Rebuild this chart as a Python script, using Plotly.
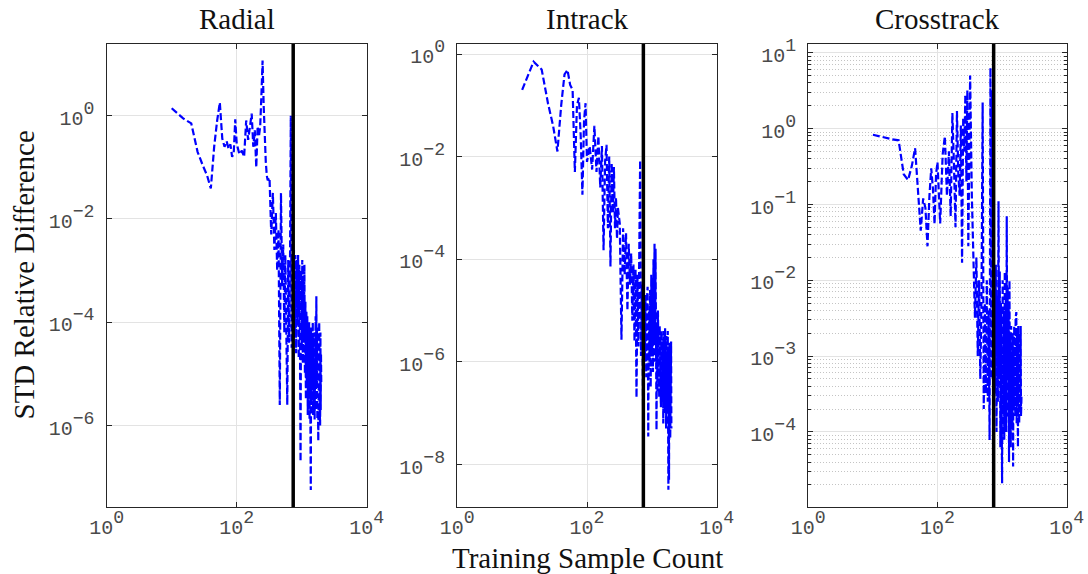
import plotly.graph_objects as go

# training sample counts (shared by the three panels)
sample_count = [10, 15, 20, 25, 30, 35, 40, 45, 50, 55, 60, 65, 70, 75, 80, 85, 90, 95, 100,
                110, 120, 130, 140, 150, 160, 170, 180, 190, 200, 210, 220, 230, 240, 250, 260, 270, 280, 290, 300,
                320, 340, 360, 380, 400, 420, 440, 460, 480, 500, 520, 540, 560, 580, 600, 620, 640, 660, 680, 700,
                720, 740, 760, 780, 800, 820, 840, 860, 880, 900, 920, 940, 960, 980, 1000,
                1020, 1040, 1060, 1080, 1100, 1120, 1140, 1160, 1180, 1200, 1220, 1240, 1260, 1280, 1300,
                1320, 1340, 1360, 1380, 1400, 1420, 1440, 1460, 1480, 1500, 1520, 1540, 1560, 1580, 1600,
                1620, 1640, 1660, 1680, 1700, 1720, 1740, 1760, 1780, 1800, 1820, 1840, 1860, 1880, 1900,
                1920, 1940, 1960, 1980, 2000]

radial_std = [1.4, 0.89, 0.71, 0.2, 0.11, 0.07, 0.039, 0.25, 0.8, 1.8, 0.36, 0.25, 0.32, 0.23, 0.28, 0.16, 0.19, 0.85, 0.29,
              0.18, 0.21, 0.16, 0.81, 0.34, 0.62, 1.1, 0.25, 0.52, 0.1, 0.62, 0.4, 0.63, 2.5, 11.7, 1.6, 0.25, 0.13, 0.07, 0.056,
              6.3e-2, 5e-3, 3.2e-2, 2.5e-3, 1.3e-2, 1e-3, 6.3e-3, 2.5e-6, 3.2e-2, 5e-4, 3.2e-3, 6.3e-5, 2e-3, 2.5e-5, 2.5e-6,
              1.6e-3, 4e-5, 1e-3, 1.0, 3.2e-5,
              2e-3, 1.3e-4, 2.5e-3, 5e-5, 2e-3, 2.5e-5, 1.6e-3, 1e-4, 2e-3, 2e-5, 1.3e-3, 6.3e-5, 2e-7, 1e-3, 3.2e-5,
              1.6e-3, 1.6e-5, 6.3e-4, 4e-5, 1.3e-3, 1e-5, 2.5e-4, 3.2e-6, 1.6e-4, 6.3e-6,
              1.3e-4, 1.6e-6, 6.3e-5, 4e-6, 1e-4, 1.3e-6, 5e-5, 7.9e-6, 5.6e-8, 7.9e-5,
              2.5e-6, 5e-5, 5e-6, 1e-4, 1.6e-6, 4e-5, 3.2e-6, 6.3e-5, 1.3e-6, 3.2e-5,
              4e-6, 1.3e-4, 2e-6, 3.2e-4, 6.3e-6, 7.9e-5, 1.3e-6, 5e-5, 2.5e-6, 5e-7,
              6.3e-5, 1.6e-6, 1e-4, 3.2e-6, 4e-5, 1e-6, 6.3e-5, 2e-6, 2.5e-5, 6.3e-6]

intrack_std = [0.2, 0.71, 0.5, 0.11, 0.04, 0.0126, 0.1, 0.4, 0.49, 0.25, 0.2, 5e-3, 0.1, 0.14, 0.025, 1.8e-3, 0.05, 0.11, 7.9e-3,
               0.016, 5.6e-3, 0.04, 5e-3, 0.025, 2.5e-3, 0.016, 1.5e-4, 7.9e-3, 0.017, 4e-4, 0.01, 7.2e-5, 7.4e-3, 7.9e-4,
               6.3e-3, 4e-4, 1.6e-3, 2.5e-4, 1e-3,
               5e-4, 2.7e-6, 4e-4, 5e-5, 3.2e-4, 1e-5, 2e-4, 3.2e-5, 1.3e-4, 6.3e-6, 7.9e-5, 2.5e-6, 6.3e-5, 2e-7, 5e-5,
               2e-6, 4e-5, 8.5e-3, 1.3e-6, 3.2e-5,
               2.5e-6, 1.8e-8, 4e-6, 1e-6, 2e-5, 5e-7, 1.6e-5, 2.9e-5, 3.5e-8, 1e-5, 1e-6, 2.5e-5, 3.2e-7, 5e-5, 1.6e-6,
               3.2e-5, 6.3e-7, 1e-4, 2.5e-6, 2e-4, 1e-6, 1.6e-4, 3.2e-6, 4.7e-8, 5e-6,
               2.5e-7, 1e-5, 6.3e-7, 4e-6, 2e-7, 5e-6, 1e-6, 2.5e-6, 1.3e-7, 4e-6,
               5e-7, 3.2e-6, 1.6e-7, 2.5e-6, 6.3e-8, 4e-6, 3.2e-7, 2e-6, 1e-7, 4.5e-6,
               4e-7, 2.5e-6, 5e-8, 3.2e-6, 2.5e-7, 2e-6, 1e-7, 4e-6, 6.3e-8, 3.2e-9,
               1.6e-6, 5e-9, 2.5e-6, 1.6e-7, 2e-6, 3.2e-8, 1.6e-6, 2e-7, 2.5e-6, 5e-8]

crosstrack_std = [0.83, 0.76, 0.72, 0.70, 0.25, 0.21, 0.32, 0.55, 0.13, 0.045, 0.12, 0.09, 0.028, 0.13, 0.3, 0.16, 0.055, 0.25, 0.36,
                  0.056, 0.45, 0.79, 0.13, 0.5, 0.07, 1.6, 0.32, 0.05, 1.7, 0.25, 0.13, 1.1, 0.017, 1.4, 0.5, 2.8, 0.2, 3.2, 0.028,
                  5.0, 0.13, 0.02, 3.2e-3, 2e-2, 1e-3, 1e-2, 5e-4, 6.3e-3, 2.2, 2e-4, 5e-3, 3.2e-4, 1e-2, 2.5e-4,
                  4e-3, 7.8e-5, 6.3, 5e-4, 3.2,
                  1e-3, 1.3e-4, 1e-2, 3.2e-4, 1.6e-2, 1e-4, 6.3e-3, 2.5e-4, 0.11, 5e-4, 1.3e-2, 6.3e-5, 5e-3, 3.2e-4, 2.1e-5,
                  1e-2, 2e-4, 4e-3, 7.9e-5, 1.3e-2, 3.2e-4, 6.3e-3, 1e-4, 7e-2, 5e-4,
                  8e-3, 1.6e-4, 5e-3, 4e-5, 1e-2, 2.5e-4, 2e-3, 6.3e-5, 2.5e-3, 3.2e-4,
                  1.6e-3, 1.3e-4, 2e-3, 3.5e-5, 1.3e-3, 2e-4, 2.5e-3, 4e-4, 1.6e-3, 1.6e-4,
                  3.2e-3, 5e-4, 3.8e-3, 1.3e-4, 2e-3, 3.2e-4, 1.3e-3, 6.3e-5, 2.5e-3, 2.5e-4,
                  1.6e-3, 1.3e-4, 2e-3, 4e-4, 1.3e-3, 2e-4, 2.5e-3, 1.6e-4, 1e-3, 3.2e-4]

training_split = 740  # black vertical line

panel_titles = ['Radial', 'Intrack', 'Crosstrack']

x_ticks = [1, 100, 10000]
x_exps = ['0', '2', '4']

radial_ticks = [1, 1e-2, 1e-4, 1e-6]
radial_exps = ['0', '−2', '−4', '−6']
intrack_ticks = [1, 1e-2, 1e-4, 1e-6, 1e-8]
intrack_exps = ['0', '−2', '−4', '−6', '−8']
cross_ticks = [10, 1, 1e-1, 1e-2, 1e-3, 1e-4]
cross_exps = ['1', '0', '−1', '−2', '−3', '−4']


def pow_label(e):
    # base "10" at 20px, exponent (70% of the 26px tick font) ~18px, like MATLAB
    return '<span style="font-size:20px">10</span><sup>%s</sup>' % e


W, H = 1088, 574
TOP, BOTTOM = 44, 67
tick_font = dict(family='Liberation Mono, Courier New, monospace', size=26, color='#4a4a4a')
serif = dict(family='Liberation Serif, Times New Roman, serif', size=29, color='#111111')

fig = go.Figure()
series = [radial_std, intrack_std, crosstrack_std]
for i, ys in enumerate(series):
    fig.add_trace(go.Scatter(
        x=sample_count, y=ys, mode='lines',
        line=dict(color='#0000ff', width=2.2, dash='7px,3px'),
        xaxis='x' if i == 0 else 'x%d' % (i + 1),
        yaxis='y' if i == 0 else 'y%d' % (i + 1),
        showlegend=False, hoverinfo='skip'))


def base_axis():
    return dict(showline=True, linecolor='#262626', linewidth=1, mirror='ticks',
                ticks='inside', ticklen=5, tickcolor='#262626', tickwidth=1,
                showgrid=True, gridcolor='#e3e3e3', gridwidth=1,
                zeroline=False, tickfont=tick_font, automargin=False)


domains = [(106.7, 366.7), (457.3, 716.7), (808.3, 1066.7)]
y_setup = [(radial_ticks, radial_exps, [-7.58, 1.39]),
           (intrack_ticks, intrack_exps, [-8.83, 0.195]),
           (cross_ticks, cross_exps, [-4.99, 1.115])]

layout = dict(width=W, height=H, autosize=False, plot_bgcolor='white', paper_bgcolor='white',
              margin=dict(l=0, r=0, t=TOP, b=BOTTOM), showlegend=False)

for i in range(3):
    sfx = '' if i == 0 else str(i + 1)
    xa = base_axis()
    xa.update(type='log', range=[0, 4], tickvals=x_ticks, ticktext=[pow_label(e) for e in x_exps],
              domain=[domains[i][0] / W, domains[i][1] / W], anchor='y' + sfx, ticklabelstandoff=-5)
    ya = base_axis()
    tv, ex, rng = y_setup[i]
    ya.update(type='log', range=rng, tickvals=tv, ticktext=[pow_label(e) for e in ex],
              anchor='x' + sfx, ticklabelstandoff=6)
    if i == 2:
        minor_vals = [m * 10.0 ** e for e in range(-5, 1) for m in range(2, 10)]
        ya['minor'] = dict(tickvals=minor_vals, ticks='inside', ticklen=3, tickcolor='#262626',
                           showgrid=True, gridcolor='#c4c4c4', griddash='1px,2px', gridwidth=1)
    layout['xaxis' + sfx] = xa
    layout['yaxis' + sfx] = ya

fig.update_layout(**layout)

plot_h = H - TOP - BOTTOM
for i in range(3):
    sfx = '' if i == 0 else str(i + 1)
    fig.add_shape(type='line', xref='x' + sfx, yref='y' + sfx + ' domain',
                  x0=training_split, x1=training_split, y0=0, y1=1,
                  line=dict(color='black', width=3.5))
    fig.add_annotation(text=panel_titles[i], showarrow=False, xref='paper', yref='paper',
                       x=(domains[i][0] + domains[i][1]) / 2 / W, y=(H - BOTTOM - 19) / plot_h,
                       xanchor='center', yanchor='middle', font=serif)

fig.add_annotation(text='Training Sample Count', showarrow=False, xref='paper', yref='paper',
                   x=(domains[1][0] + domains[1][1]) / 2 / W, y=-(558 - (H - BOTTOM)) / plot_h,
                   xanchor='center', yanchor='middle', font=serif)
fig.add_annotation(text='STD Relative Difference', showarrow=False, xref='paper', yref='paper',
                   x=23 / W, y=0.5, xanchor='center', yanchor='middle', textangle=-90, font=serif)

fig.write_html('out.html', config={'displayModeBar': False},
               post_script="document.body.style.margin='0px';")
